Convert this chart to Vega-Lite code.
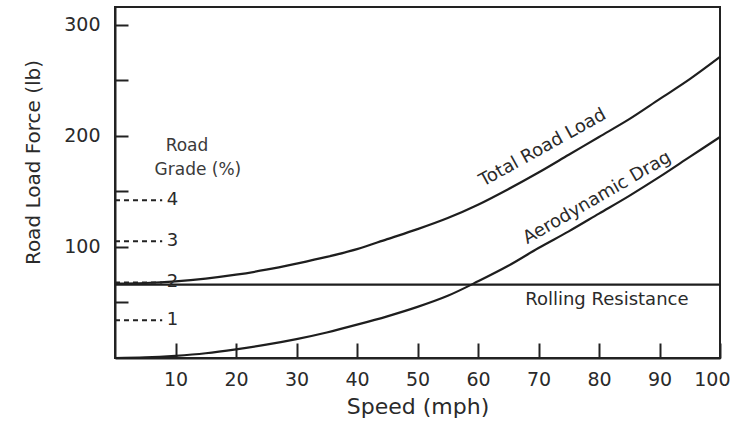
{
  "$schema": "https://vega.github.io/schema/vega-lite/v6.json",
  "width": 605,
  "height": 351,
  "autosize": {"type": "none"},
  "padding": {"left": 115, "top": 7, "right": 16, "bottom": 66},
  "background": "white",
  "config": {
    "font": "DejaVu Sans",
    "view": {"stroke": "#222", "strokeWidth": 2},
    "text": {"font": "DejaVu Sans", "color": "#2a2a2a"}
  },
  "datasets": {
    "curves": [
      {"speed": 0, "force": 67, "series": "Total Road Load"},
      {"speed": 5, "force": 67.5, "series": "Total Road Load"},
      {"speed": 10, "force": 69, "series": "Total Road Load"},
      {"speed": 15, "force": 71.5, "series": "Total Road Load"},
      {"speed": 20, "force": 75, "series": "Total Road Load"},
      {"speed": 25, "force": 79.5, "series": "Total Road Load"},
      {"speed": 30, "force": 85, "series": "Total Road Load"},
      {"speed": 35, "force": 91, "series": "Total Road Load"},
      {"speed": 40, "force": 98, "series": "Total Road Load"},
      {"speed": 45, "force": 107, "series": "Total Road Load"},
      {"speed": 50, "force": 116, "series": "Total Road Load"},
      {"speed": 55, "force": 126, "series": "Total Road Load"},
      {"speed": 60, "force": 138, "series": "Total Road Load"},
      {"speed": 65, "force": 152, "series": "Total Road Load"},
      {"speed": 70, "force": 167, "series": "Total Road Load"},
      {"speed": 75, "force": 183, "series": "Total Road Load"},
      {"speed": 80, "force": 199, "series": "Total Road Load"},
      {"speed": 85, "force": 215, "series": "Total Road Load"},
      {"speed": 90, "force": 233, "series": "Total Road Load"},
      {"speed": 95, "force": 251, "series": "Total Road Load"},
      {"speed": 100, "force": 271, "series": "Total Road Load"},
      {"speed": 0, "force": 0, "series": "Aerodynamic Drag"},
      {"speed": 5, "force": 0.5, "series": "Aerodynamic Drag"},
      {"speed": 10, "force": 2, "series": "Aerodynamic Drag"},
      {"speed": 15, "force": 4.3, "series": "Aerodynamic Drag"},
      {"speed": 20, "force": 7.8, "series": "Aerodynamic Drag"},
      {"speed": 25, "force": 12, "series": "Aerodynamic Drag"},
      {"speed": 30, "force": 17, "series": "Aerodynamic Drag"},
      {"speed": 35, "force": 23, "series": "Aerodynamic Drag"},
      {"speed": 40, "force": 30, "series": "Aerodynamic Drag"},
      {"speed": 45, "force": 37.5, "series": "Aerodynamic Drag"},
      {"speed": 50, "force": 46, "series": "Aerodynamic Drag"},
      {"speed": 55, "force": 56, "series": "Aerodynamic Drag"},
      {"speed": 60, "force": 69, "series": "Aerodynamic Drag"},
      {"speed": 65, "force": 83, "series": "Aerodynamic Drag"},
      {"speed": 70, "force": 99, "series": "Aerodynamic Drag"},
      {"speed": 75, "force": 114, "series": "Aerodynamic Drag"},
      {"speed": 80, "force": 130, "series": "Aerodynamic Drag"},
      {"speed": 85, "force": 146, "series": "Aerodynamic Drag"},
      {"speed": 90, "force": 163, "series": "Aerodynamic Drag"},
      {"speed": 95, "force": 181, "series": "Aerodynamic Drag"},
      {"speed": 100, "force": 199, "series": "Aerodynamic Drag"},
      {"speed": 0, "force": 66, "series": "Rolling Resistance"},
      {"speed": 100, "force": 66, "series": "Rolling Resistance"}
    ],
    "grades": [
      {"grade": "1", "force": 34},
      {"grade": "2", "force": 68},
      {"grade": "3", "force": 105},
      {"grade": "4", "force": 142}
    ],
    "notes": [
      {"label": "Road", "speed": 11.9, "force": 191},
      {"label": "Grade (%)", "speed": 13.7, "force": 169}
    ],
    "curveLabels": [
      {"label": "Total Road Load", "speed": 70.7, "force": 189},
      {"label": "Aerodynamic Drag", "speed": 79.7, "force": 144},
      {"label": "Rolling Resistance", "speed": 81.3, "force": 52}
    ]
  },
  "layer": [
    {
      "data": {"name": "curves"},
      "mark": {"type": "line", "color": "#1e1e1e", "strokeWidth": 2.2, "interpolate": "monotone"},
      "encoding": {
        "x": {
          "field": "speed", "type": "quantitative",
          "scale": {"domain": [0, 100], "nice": false, "zero": true},
          "axis": {
            "values": [10, 20, 30, 40, 50, 60, 70, 80, 90, 100],
            "grid": false,
            "tickSize": -15, "tickWidth": 2, "tickColor": "#222",
            "domainColor": "#222", "domainWidth": 2,
            "labelFontSize": 19, "labelColor": "#2a2a2a", "labelPadding": 27,
            "labelFlush": true, "labelFlushOffset": 10,
            "title": "Speed (mph)", "titleFontSize": 22, "titleFontWeight": "normal",
            "titleColor": "#2a2a2a", "titleY": 48, "titleBaseline": "middle"
          }
        },
        "y": {
          "field": "force", "type": "quantitative",
          "scale": {"domain": [0, 316], "nice": false},
          "axis": {
            "values": [50, 100, 150, 200, 250, 300],
            "labelExpr": "datum.value % 100 === 0 ? datum.label : ''",
            "grid": false,
            "tickSize": -13, "tickWidth": 2, "tickColor": "#222",
            "domainColor": "#222", "domainWidth": 2,
            "labelFontSize": 19, "labelColor": "#2a2a2a", "labelPadding": 28,
            "title": "Road Load Force (lb)", "titleFontSize": 20, "titleFontWeight": "normal",
            "titleColor": "#2a2a2a", "titleX": -82, "titleY": 155,
            "titleAlign": "center", "titleBaseline": "middle", "titleAngle": -90
          }
        },
        "detail": {"field": "series", "type": "nominal"}
      }
    },
    {
      "data": {"name": "grades"},
      "mark": {"type": "rule", "color": "#222", "strokeWidth": 2, "strokeDash": [5, 4]},
      "encoding": {
        "x": {"datum": 0, "type": "quantitative"},
        "x2": {"datum": 7.8},
        "y": {"field": "force", "type": "quantitative"}
      }
    },
    {
      "data": {"name": "grades"},
      "mark": {"type": "text", "fontSize": 18, "align": "center", "baseline": "middle", "color": "#2a2a2a"},
      "encoding": {
        "x": {"datum": 9.5, "type": "quantitative"},
        "y": {"field": "force", "type": "quantitative"},
        "text": {"field": "grade"}
      }
    },
    {
      "data": {"name": "notes"},
      "mark": {"type": "text", "fontSize": 17, "align": "center", "baseline": "middle", "color": "#3a3a3a"},
      "encoding": {
        "x": {"field": "speed", "type": "quantitative"},
        "y": {"field": "force", "type": "quantitative"},
        "text": {"field": "label"}
      }
    },
    {
      "data": {"name": "curveLabels"},
      "transform": [{"filter": "datum.label === 'Total Road Load'"}],
      "mark": {"type": "text", "fontSize": 18, "align": "center", "baseline": "middle", "angle": 331, "color": "#2a2a2a"},
      "encoding": {
        "x": {"field": "speed", "type": "quantitative"},
        "y": {"field": "force", "type": "quantitative"},
        "text": {"field": "label"}
      }
    },
    {
      "data": {"name": "curveLabels"},
      "transform": [{"filter": "datum.label === 'Aerodynamic Drag'"}],
      "mark": {"type": "text", "fontSize": 18, "align": "center", "baseline": "middle", "angle": 330, "color": "#2a2a2a"},
      "encoding": {
        "x": {"field": "speed", "type": "quantitative"},
        "y": {"field": "force", "type": "quantitative"},
        "text": {"field": "label"}
      }
    },
    {
      "data": {"name": "curveLabels"},
      "transform": [{"filter": "datum.label === 'Rolling Resistance'"}],
      "mark": {"type": "text", "fontSize": 18, "align": "center", "baseline": "middle", "color": "#2a2a2a"},
      "encoding": {
        "x": {"field": "speed", "type": "quantitative"},
        "y": {"field": "force", "type": "quantitative"},
        "text": {"field": "label"}
      }
    }
  ]
}
